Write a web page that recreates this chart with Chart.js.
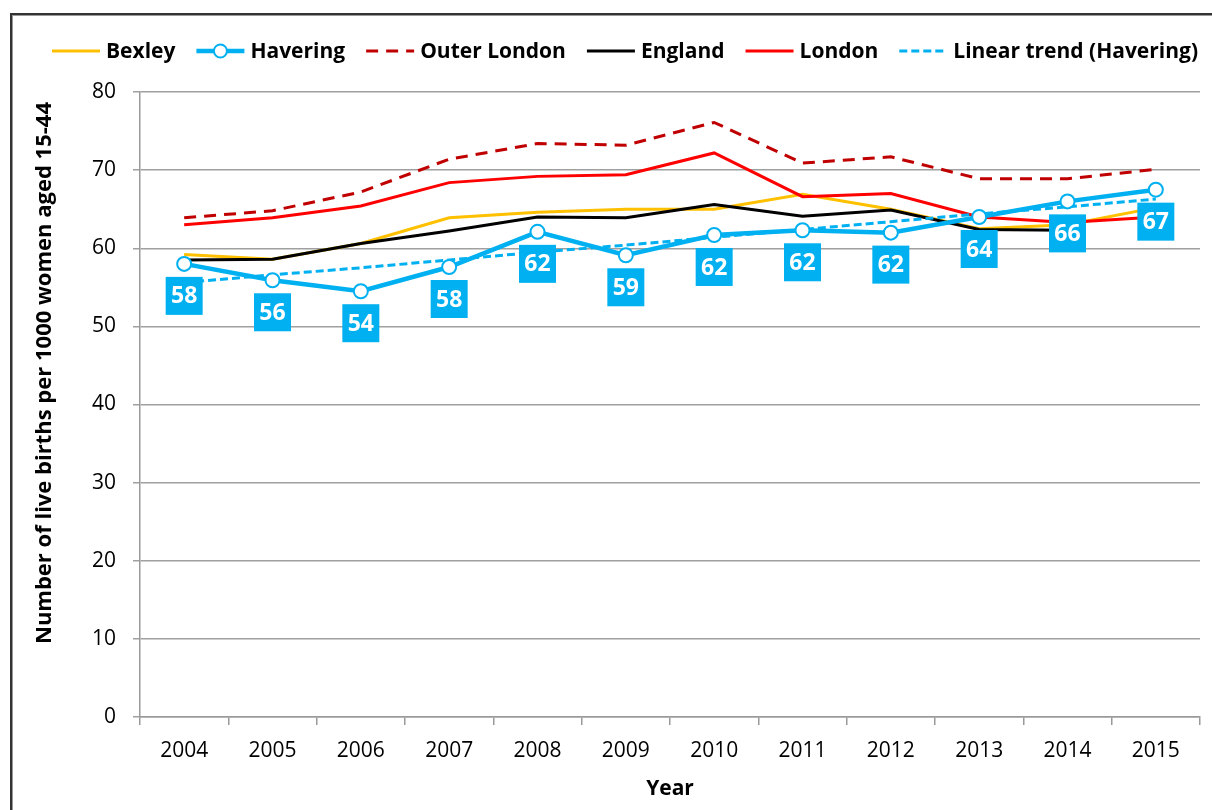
<!DOCTYPE html>
<html>
<head>
<meta charset="utf-8">
<script src="https://cdn.jsdelivr.net/npm/chart.js@4.4.1/dist/chart.umd.min.js"></script>
<style>
  body { margin: 0; background: #fff; width: 1212px; height: 810px; overflow: hidden; position: relative; }
  .frame { position: absolute; left: 10px; top: 13px; width: 1240px; height: 840px;
           border-top: 2px solid #333; border-left: 2px solid #333; box-shadow: inset 1px 1px 0 #999; }
  #wrap { position: absolute; left: 14px; top: 16px; width: 1198px; height: 794px; }
</style>
</head>
<body>
<div class="frame"></div>
<div id="wrap"><canvas id="chart" width="1198" height="794"></canvas></div>
<script>
const years = ['2004', '2005', '2006', '2007', '2008', '2009', '2010', '2011', '2012', '2013', '2014', '2015'];
const bexley = [59.2, 58.6, 60.6, 63.9, 64.6, 65.0, 65.0, 66.9, 65.0, 62.5, 63.0, 65.2];
const havering = [58.0, 55.9, 54.5, 57.6, 62.1, 59.1, 61.7, 62.3, 62.0, 64.0, 66.0, 67.5];
const haveringLabels = ['58', '56', '54', '58', '62', '59', '62', '62', '62', '64', '66', '67'];
const outerLondon = [63.9, 64.8, 67.2, 71.4, 73.4, 73.2, 76.1, 70.9, 71.7, 68.9, 68.9, 70.1];
const england = [58.5, 58.6, 60.6, 62.2, 64.0, 63.9, 65.6, 64.1, 64.9, 62.4, 62.3, null];
const london = [63.0, 63.9, 65.4, 68.4, 69.2, 69.4, 72.2, 66.6, 67.0, 64.0, 63.3, 64.0];
const haveringTrend = [55.6, 56.6, 57.5, 58.5, 59.5, 60.4, 61.4, 62.4, 63.4, 64.4, 65.3, 66.3];

const BLUE = '#00B0F0';
const FONT = "'Open Sans', sans-serif";
const yTitle = 'Number of live births per 1000 women aged 15-44';

// value boxes under the Havering points, legend and rotated y title
const extras = {
  id: 'extras',
  afterDatasetsDraw(chart) {
    const ctx = chart.ctx;
    const meta = chart.getDatasetMeta(1);
    ctx.save();
    ctx.font = 'bold 23px ' + FONT;
    ctx.textAlign = 'center';
    ctx.textBaseline = 'middle';
    meta.data.forEach((pt, i) => {
      const cx = pt.x, cy = pt.y + 32;
      ctx.fillStyle = BLUE;
      ctx.fillRect(cx - 18.5, cy - 19, 37, 38);
      ctx.fillStyle = '#fff';
      ctx.fillText(haveringLabels[i], cx, cy + 1);
    });
    ctx.restore();
  },
  afterDraw(chart) {
    const ctx = chart.ctx;
    ctx.save();
    // y title
    ctx.font = 'bold 22px ' + FONT;
    ctx.fillStyle = '#000';
    ctx.textAlign = 'center';
    ctx.textBaseline = 'middle';
    ctx.translate(31, 357);
    ctx.rotate(-Math.PI / 2);
    ctx.fillText(yTitle, 0, 0);
    ctx.restore();

    // legend
    ctx.save();
    ctx.font = 'bold 21px ' + FONT;
    ctx.textBaseline = 'middle';
    const items = chart.data.datasets;
    const lineW = 48, gapText = 6, gapItem = 21;
    let total = 0;
    items.forEach((d, i) => {
      total += lineW + gapText + ctx.measureText(d.label).width + (i < items.length - 1 ? gapItem : 0);
    });
    let x = 611 - total / 2;
    const y = 35;
    items.forEach(d => {
      ctx.save();
      ctx.strokeStyle = d.borderColor;
      ctx.lineWidth = d.borderWidth;
      ctx.setLineDash(d.borderDash || []);
      ctx.beginPath();
      ctx.moveTo(x, y);
      ctx.lineTo(x + lineW, y);
      ctx.stroke();
      if (d.pointRadius > 0) {
        ctx.setLineDash([]);
        ctx.lineWidth = 2;
        ctx.fillStyle = '#fff';
        ctx.beginPath();
        ctx.arc(x + lineW / 2, y, 6.5, 0, Math.PI * 2);
        ctx.fill();
        ctx.stroke();
      }
      ctx.restore();
      x += lineW + gapText;
      ctx.fillStyle = '#000';
      ctx.fillText(d.label, x, y + 1);
      x += ctx.measureText(d.label).width + gapItem;
    });
    ctx.restore();
  }
};

function line(label, data, color, width, dash, order) {
  return {
    label: label,
    data: data,
    borderColor: color,
    backgroundColor: color,
    borderWidth: width,
    borderDash: dash,
    pointRadius: 0,
    pointHoverRadius: 0,
    tension: 0,
    fill: false,
    order: order
  };
}

const datasets = [
  line('Bexley', bexley, '#FFC000', 3, [], 5),
  {
    label: 'Havering',
    data: havering,
    borderColor: BLUE,
    backgroundColor: '#fff',
    borderWidth: 4.5,
    borderDash: [],
    pointRadius: 7,
    pointBorderWidth: 2,
    pointBackgroundColor: '#fff',
    pointBorderColor: BLUE,
    tension: 0,
    fill: false,
    order: 0
  },
  line('Outer London', outerLondon, '#C00000', 3, [12, 8], 4),
  line('England', england, '#000000', 3, [], 3),
  line('London', london, '#FF0000', 3, [], 2),
  line('Linear trend (Havering)', haveringTrend, BLUE, 3, [8, 4], 1)
];

new Chart(document.getElementById('chart'), {
  type: 'line',
  data: { labels: years, datasets: datasets },
  options: {
    responsive: false,
    animation: false,
    events: [],
    layout: { padding: { top: 76, right: 12, left: 0, bottom: 0 } },
    plugins: { legend: { display: false }, tooltip: { enabled: false } },
    scales: {
      x: {
        offset: true,
        grid: { offset: true, drawOnChartArea: false, drawTicks: true, tickLength: 8, color: '#9a9a9a', lineWidth: 1.5 },
        border: { color: '#9a9a9a', width: 1.5 },
        ticks: { color: '#000', font: { family: FONT, size: 21 }, padding: 13, maxRotation: 0 },
        title: { display: true, text: 'Year', color: '#000', font: { family: FONT, size: 21, weight: 'bold' }, padding: { top: 0, bottom: 8 } },
        afterFit(scale) { scale.height = 93; }
      },
      y: {
        min: 0,
        max: 80,
        grid: { color: '#a0a0a0', lineWidth: 1.5, tickLength: 7 },
        border: { color: '#9a9a9a', width: 1.5 },
        ticks: { stepSize: 10, color: '#000', font: { family: FONT, size: 21 }, padding: 17 },
        afterFit(scale) { scale.width = 126; }
      }
    }
  },
  plugins: [extras]
});
</script>
</body>
</html>
